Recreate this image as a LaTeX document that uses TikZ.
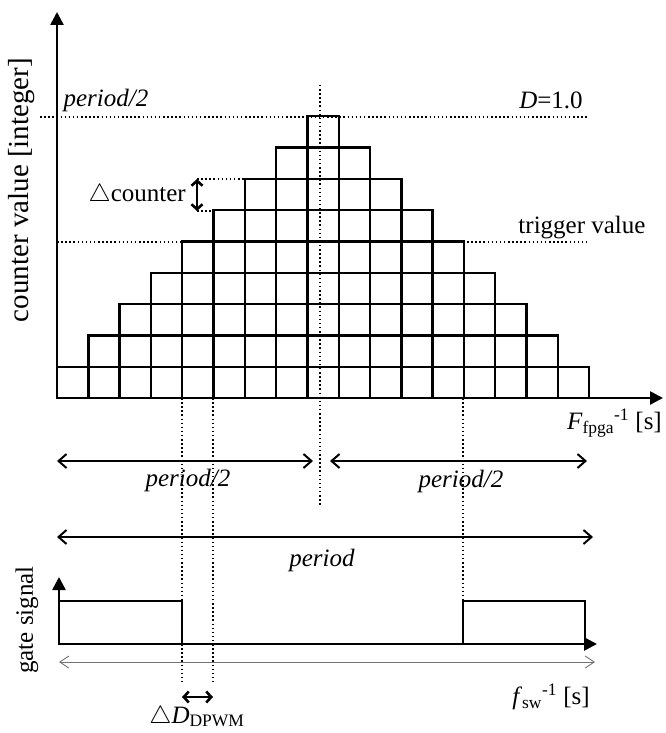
\documentclass[tikz,border=0pt]{standalone}
\usepackage{fontspec}
\setmainfont{Liberation Serif}
\usetikzlibrary{arrows.meta}

\begin{document}
\begin{tikzpicture}[x=1pt, y=-1pt,
  cell/.style={draw, line width=2.4pt},
  axis/.style={line width=2.6pt, -{Triangle[length=13pt,width=13pt]}},
  guide/.style={line width=1.6pt, dash pattern=on 1.5pt off 2.6pt},
  span/.style={line width=2pt, {Straight Barb[length=8pt,width=14pt]}-{Straight Barb[length=8pt,width=14pt]}},
  thinspan/.style={line width=0.9pt, draw=black!55, {Straight Barb[length=9pt,width=12pt]}-{Straight Barb[length=9pt,width=12pt]}},
  step arrow/.style={line width=2.6pt, {Straight Barb[length=5pt,width=11pt]}-{Straight Barb[length=5pt,width=11pt]}},
  lab/.style={inner sep=0pt, font=\fontsize{25}{30}\selectfont},
  ilab/.style={lab, font=\fontsize{25}{30}\selectfont\itshape}
]
\useasboundingbox (0,0) rectangle (665,733);

% counter staircase
\foreach \r in {1,...,9}{
  \pgfmathtruncatemacro{\first}{\r-1}
  \pgfmathtruncatemacro{\last}{17-\r}
  \foreach \c in {\first,...,\last}
    \draw[cell] ({57+\c*31.3},{398-\r*31.3}) rectangle ++(31.3,31.3);
}

% axes of the counter plot
\coordinate (origin) at (57,398);
\coordinate (ytop) at (57,12);
\coordinate (xend) at (663,398);
\draw[axis] (origin) -- (ytop);
\draw[axis] (origin) -- (xend);

% guide lines
\coordinate (dleft) at (40,117);
\coordinate (dright) at (588,117);
\coordinate (tleft) at (57,242);
\coordinate (tright) at (588,242);
\coordinate (midtop) at (320,85);
\coordinate (midbot) at (320,506);
\draw[guide] (dleft) -- (dright);
\draw[guide] (tleft) -- (tright);
\draw[guide] (midtop) -- (midbot);

\coordinate (cnthi) at (197,179);
\coordinate (cntlo) at (197,211);
\coordinate (rowhi) at (245,179);
\coordinate (rowlo) at (213,211);
\draw[guide] (cnthi) -- (rowhi);
\draw[guide] (cntlo) -- (rowlo);
\draw[step arrow] (cnthi) -- (cntlo);

\coordinate (offa) at (182,398);
\coordinate (offb) at (213,398);
\coordinate (onr) at (463,398);
\coordinate (offalow) at (182,683);
\coordinate (offblow) at (213,683);
\coordinate (onrlow) at (463,601);
\draw[guide] (offa) -- (offalow);
\draw[guide] (offb) -- (offblow);
\draw[guide] (onr) -- (onrlow);

% labels of the counter plot
\node[lab, rotate=90, font=\fontsize{29}{34}\selectfont] (ylabel) at (22,190) {counter value [integer]};
\node[ilab] (halftop) at (106,100) {period/2};
\node[lab] (dmax) at (551,100) {\textit{D}=1.0};
\node[lab] (trig) at (582,228) {trigger value};
\node[lab, anchor=east] (dcnt) at (186,195) {$\bigtriangleup$counter};
\node[lab, anchor=east] (xlabel) at (662,423) {\textit{F}\textsubscript{fpga}\textsuperscript{-1} [s]};

% period spans
\coordinate (ha) at (57,461);
\coordinate (hb) at (313,461);
\coordinate (hc) at (330,461);
\coordinate (hd) at (587,461);
\coordinate (pa) at (57,537);
\coordinate (pb) at (593,537);
\draw[span] (ha) -- (hb);
\draw[span] (hc) -- (hd);
\draw[span] (pa) -- (pb);
\node[ilab] (halfleft) at (188,480) {period/2};
\node[ilab] (halfright) at (461,481) {period/2};
\node[ilab] (full) at (322,560) {period};

% gate signal
\coordinate (gorigin) at (59,644);
\coordinate (gtop) at (59,577);
\coordinate (gend) at (597,644);
\draw[line width=2pt] (59,601) rectangle (182,644);
\draw[line width=2pt] (463,601) rectangle (585,644);
\draw[axis] (gorigin) -- (gtop);
\draw[axis] (gorigin) -- (gend);

\coordinate (swa) at (59,662);
\coordinate (swb) at (595,662);
\draw[thinspan] (swa) -- (swb);

\coordinate (dda) at (182,697);
\coordinate (ddb) at (213,697);
\draw[step arrow] (dda) -- (ddb);

\node[lab, rotate=90] (glabel) at (27,620) {gate signal};
\node[lab] (ddpwm) at (197,717) {$\bigtriangleup$\textit{D}\textsubscript{DPWM}};
\node[lab] (swlabel) at (551,697) {\textit{f}\textsubscript{sw}\textsuperscript{-1} [s]};
\end{tikzpicture}
\end{document}
